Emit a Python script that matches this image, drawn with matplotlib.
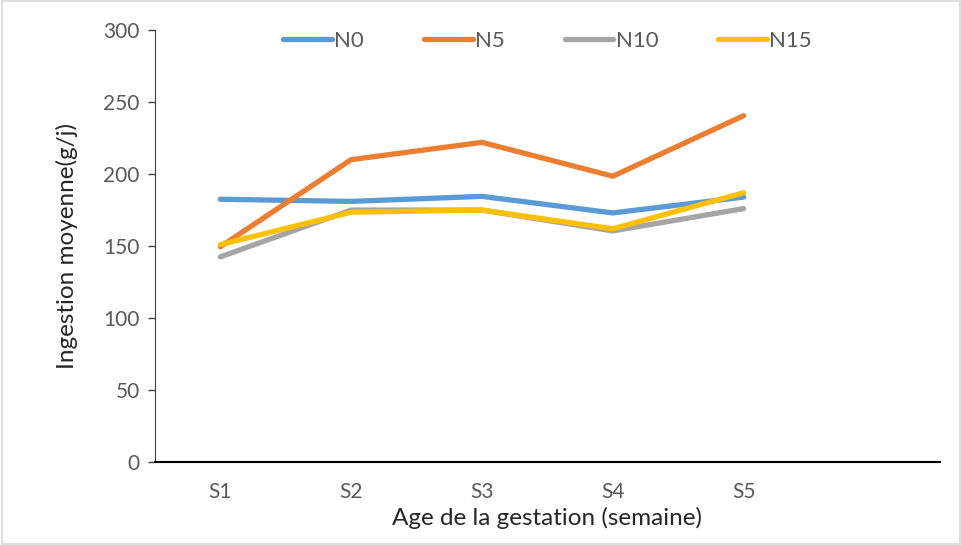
import matplotlib.pyplot as plt
from matplotlib.patches import Rectangle

plt.rcParams['font.family'] = ['Lato', 'DejaVu Sans']

# data
weeks = ['S1', 'S2', 'S3', 'S4', 'S5']
n0 = [182.5, 181, 184.5, 173, 184]
n5 = [149.5, 210, 222, 198.5, 240.5]
n10 = [142.5, 175, 175, 160.5, 176]
n15 = [151, 173.5, 175, 162, 187]

series = [('N0', n0, '#5B9BD5'), ('N5', n5, '#ED7D31'),
          ('N10', n10, '#A5A5A5'), ('N15', n15, '#FFC000')]

fig = plt.figure(figsize=(9.62, 5.45), dpi=100)
ax = fig.add_axes([0.161, 0.152, 0.816, 0.793])

x = list(range(len(weeks)))
for name, vals, col in series:
    ax.plot(x, vals, color=col, linewidth=3.8, label=name,
            solid_capstyle='round', solid_joinstyle='round')

ax.set_xlim(-0.5, 5.5)
ax.set_ylim(0, 300)
ax.set_yticks(range(0, 301, 50))
ax.set_xticks(x)
ax.set_xticklabels(weeks)
ax.tick_params(axis='x', length=0, pad=14, labelsize=15, labelcolor='#595959')
ax.tick_params(axis='y', length=5, width=1, color='#404040', pad=6,
               labelsize=15, labelcolor='#595959')

for s in ['top', 'right']:
    ax.spines[s].set_visible(False)
ax.spines['left'].set_color('#404040')
ax.spines['bottom'].set_color('#000000')
ax.spines['bottom'].set_linewidth(1.5)

ax.set_xlabel('Age de la gestation (semaine)', fontsize=17.5, color='#262626', labelpad=4)
ax.set_ylabel('Ingestion moyenne(g/j)', fontsize=17.5, color='#262626', labelpad=18)

leg = ax.legend(loc='upper center', bbox_to_anchor=(0.5, 1.045), ncol=4,
                frameon=False, fontsize=16, handlelength=2.2,
                handletextpad=0.1, columnspacing=2.7)
for t in leg.get_texts():
    t.set_color('#595959')

fig.patches.append(Rectangle((0.002, 0.002), 0.996, 0.996, transform=fig.transFigure,
                             fill=False, edgecolor='#D9D9D9', linewidth=1.2))

fig.savefig('out.png', dpi=100, facecolor='white')
